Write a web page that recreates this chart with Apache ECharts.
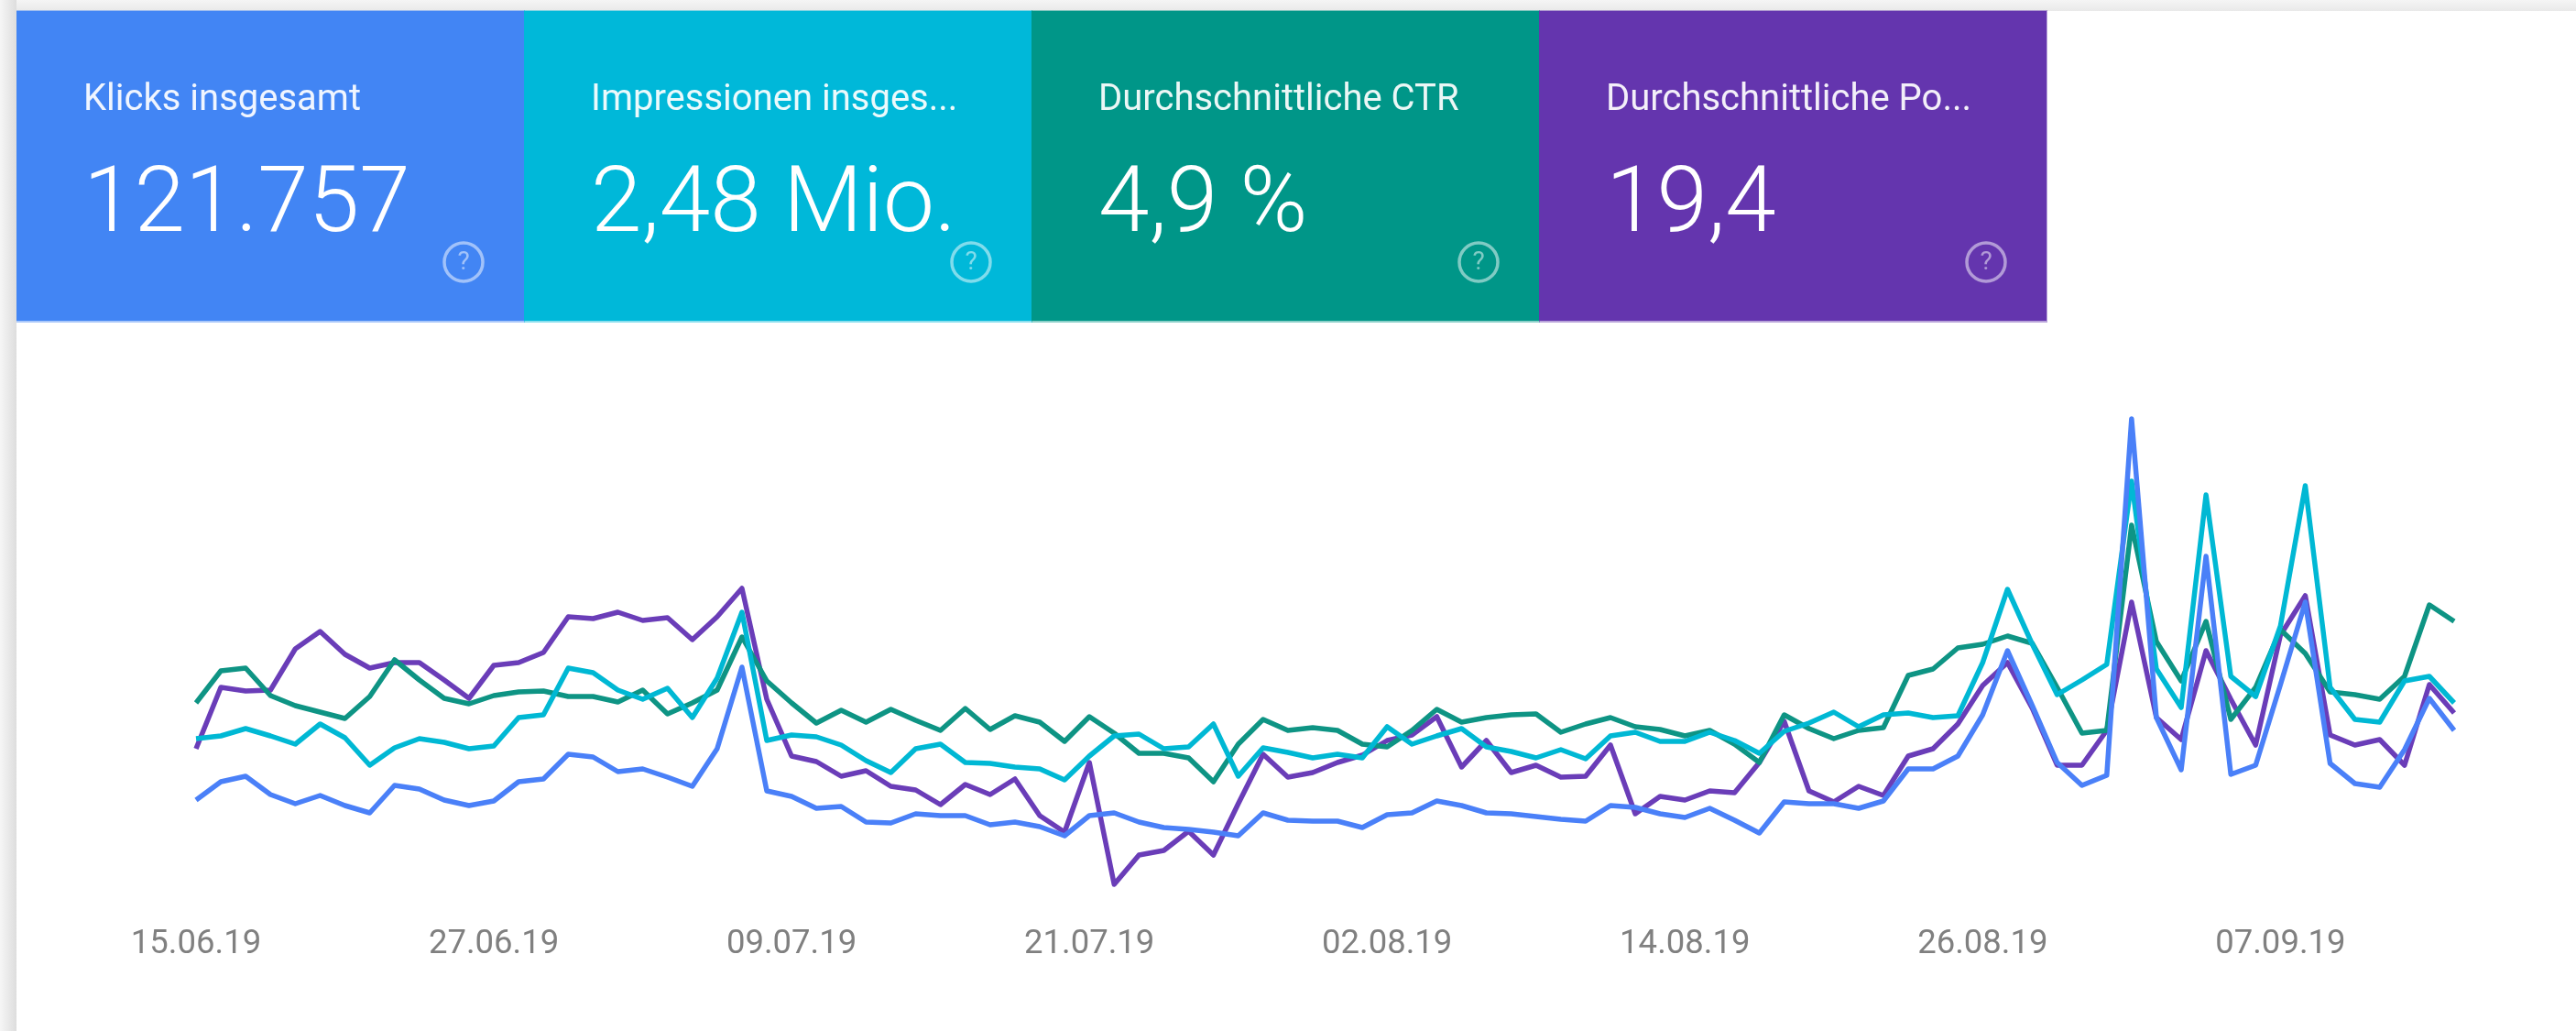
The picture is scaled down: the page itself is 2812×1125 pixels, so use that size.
<!DOCTYPE html>
<html>
<head>
<meta charset="utf-8">
<style>html,body{margin:0;padding:0;background:#fff}#c{width:2812px;height:1125px}</style>
<script src="https://cdn.jsdelivr.net/npm/echarts@6/dist/echarts.min.js"></script>
</head>
<body>
<div id="c"></div>
<script>
// The four metrics have different hidden scales, so values are a common plotted index.
const cardTitles = ["Klicks insgesamt", "Impressionen insges...", "Durchschnittliche CTR", "Durchschnittliche Po..."];
const cardValues = ["121.757", "2,48 Mio.", "4,9 %", "19,4"];
const colors = ["#4285F4", "#00B8D9", "#009688", "#6435AE"];
const lineColors = ["#4A80F8", "#00B8D4", "#0E9484", "#6A3DB8"];
const seriesNames = ["Klicks", "Impressionen", "CTR", "Position"];
const startDate = [2019, 5, 15];
const pointCount = 92;

const klicks = [127,147,153,133,123,132,121,113,143,139,127,121,126,147,150,177,174,158,161,152,142,183,272,
  137,131,118,120,103,102,112,110,110,100,103,98,88,110,113,103,97,95,92,88,113,105,104,104,
  97,111,113,126,121,113,112,109,106,104,121,119,112,108,118,105,91,125,123,123,118,126,
  161,161,175,220,290,230,168,143,154,543,217,160,393,155,165,253,343,167,145,141,182,238,203];
const impressionen = [194,197,205,197,188,210,195,165,184,194,190,183,186,217,220,271,266,247,237,249,217,260,332,
  192,198,196,187,170,157,183,188,168,167,163,161,149,175,197,199,183,185,210,153,184,179,173,177,
  173,207,188,197,205,185,180,173,182,172,197,201,191,191,201,192,178,202,211,223,207,220,
  222,217,219,277,357,297,242,258,275,475,270,228,460,262,240,317,470,250,215,212,257,262,233];
const ctr = [233,268,271,241,230,223,216,240,280,258,238,232,241,245,246,240,240,234,247,221,233,247,305,
  257,233,211,225,212,226,214,203,227,204,219,212,191,218,200,178,178,173,147,188,215,203,206,203,
  188,185,203,226,212,217,220,221,201,210,217,207,204,197,203,188,168,220,205,194,203,206,
  263,270,293,297,306,298,250,200,203,427,300,257,322,215,250,313,287,245,242,237,262,340,322];
const position = [183,250,246,247,292,311,286,271,277,277,258,238,274,277,288,327,325,332,323,326,302,327,358,
  237,175,169,153,159,142,138,122,144,133,150,110,92,168,35,67,72,93,67,123,177,152,157,168,
  176,192,198,218,163,192,157,165,152,153,187,112,131,127,137,135,168,213,137,125,142,132,
  175,183,210,252,277,227,165,165,203,343,217,193,290,237,187,307,350,198,187,193,165,253,222];

const pad = n => String(n).padStart(2, "0");
const categories = [];
for (let i = 0; i < pointCount; i++) {
  const d = new Date(Date.UTC(startDate[0], startDate[1], startDate[2] + i));
  categories.push(pad(d.getUTCDate()) + "." + pad(d.getUTCMonth() + 1) + "." + String(d.getUTCFullYear()).slice(2));
}

const cardX = [18, 572, 1126, 1680];
const cardW = 554, cardY = 12, cardH = 338;
const fade = (x, y, x2, y2, a, b) => ({type:"linear", x:x, y:y, x2:x2, y2:y2, colorStops:[{offset:0,color:a},{offset:1,color:b}]});
const graphic = [
  {type:"rect", silent:true, z:0, shape:{x:0,y:0,width:2812,height:12}, style:{fill:fade(0,0,0,1,"#F5F5F5","#E9E9E9")}},
  {type:"rect", silent:true, z:0, shape:{x:0,y:0,width:18,height:1125}, style:{fill:fade(0,0,1,0,"#F6F6F6","#DDDDDD")}}
];
cardX.forEach((x, i) => {
  graphic.push({type:"rect", silent:true, z:1, shape:{x:x,y:cardY-1,width:cardW+1,height:cardH+3}, style:{fill:colors[i], opacity:.45}});
  graphic.push({type:"rect", silent:true, z:1, shape:{x:x,y:cardY,width:cardW,height:cardH}, style:{fill:colors[i]}});
  graphic.push({type:"text", silent:true, z:2, style:{x:x+73, y:110, text:cardTitles[i], fill:"rgba(255,255,255,.92)", font:"400 40px Roboto", textAlign:"left", textVerticalAlign:"middle"}});
  graphic.push({type:"text", silent:true, z:2, style:{x:x+73, y:227, text:cardValues[i], fill:"#fff", font:"300 100px Roboto", textAlign:"left", textVerticalAlign:"middle"}});
  graphic.push({type:"circle", silent:true, z:2, shape:{cx:x+488,cy:286,r:21}, style:{fill:"none", stroke:"rgba(255,255,255,.5)", lineWidth:3.5}});
  graphic.push({type:"text", silent:true, z:2, style:{x:x+488, y:287, text:"?", fill:"rgba(255,255,255,.5)", font:"400 28px Roboto", textAlign:"center", textVerticalAlign:"middle"}});
});

function line(name, data, color) {
  return {name:name, type:"line", data:data, symbol:"none", smooth:false, animation:false,
    lineStyle:{color:color, width:5.5, join:"round"}, itemStyle:{color:color}};
}

const chart = echarts.init(document.getElementById("c"), null, {renderer:"canvas"});
chart.setOption({
  animation:false,
  backgroundColor:"#fff",
  grid:{left:214, right:133, top:400, height:600, containLabel:false},
  xAxis:{type:"category", boundaryGap:false, data:categories,
    axisLine:{show:false}, axisTick:{show:false}, splitLine:{show:false},
    axisLabel:{interval:(idx) => idx % 12 === 0, color:"#808080", fontFamily:"Roboto", fontSize:36.5, margin:12}},
  yAxis:{type:"value", min:0, max:600, show:false, splitLine:{show:false}},
  legend:{show:false},
  tooltip:{show:false},
  graphic:graphic,
  series:[
    line(seriesNames[3], position, lineColors[3]),
    line(seriesNames[2], ctr, lineColors[2]),
    line(seriesNames[1], impressionen, lineColors[1]),
    line(seriesNames[0], klicks, lineColors[0])
  ]
});
</script>
</body>
</html>
